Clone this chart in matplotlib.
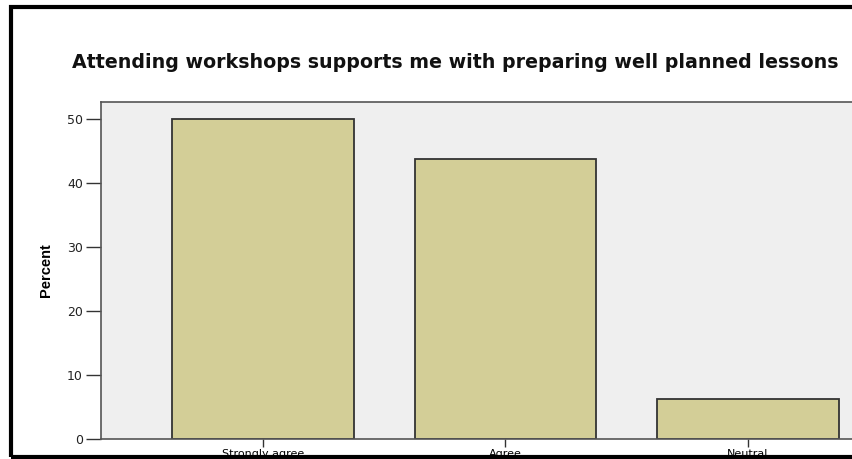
import matplotlib
matplotlib.use("Agg")
import matplotlib.pyplot as plt
from matplotlib.patches import Rectangle

categories = ["Strongly agree", "Agree", "Neutral"]
percent = [50.0, 43.75, 6.25]
yticks = [0, 10, 20, 30, 40, 50]
title = "Attending workshops supports me with preparing well planned lessons"

W, H = 853, 459
fig = plt.figure(figsize=(W / 100, H / 100), dpi=100)
fig.patch.set_facecolor("white")


def px(x0, y0, x1, y1):
    # pixel box (from top-left) -> figure fraction [left, bottom, width, height]
    return [x0 / W, (H - y1) / H, (x1 - x0) / W, (y1 - y0) / H]


# thick black frame of the screenshot (sits under the axis labels)
fig.patches.append(Rectangle((11.5 / W, (H - 456.5) / H), 2, 450 / H,
                             transform=fig.transFigure, fill=False,
                             edgecolor="black", linewidth=3, zorder=-1))

# plot area runs past the right edge of the screenshot
ax = fig.add_axes(px(101, 102, 910, 439))
ax.set_facecolor("#efefef")
x = range(len(categories))
ax.bar(x, percent, width=0.75, color="#d3ce97", edgecolor="#333333", linewidth=1.3)
ax.set_xlim(-0.668, len(categories) - 1 + 0.668)
ax.set_ylim(0, 52.66)

ax.set_yticks(yticks)
ax.set_xticks(list(x))
ax.set_xticklabels(categories, fontsize=8, family="DejaVu Sans")
ax.tick_params(axis="y", length=11, width=1, color="#333333", labelsize=9,
               labelcolor="#222222", pad=2)
ax.tick_params(axis="x", length=6, width=1, color="#333333", pad=1)
for lab in ax.get_yticklabels():
    lab.set_family("DejaVu Sans")
for side in ["left", "top", "bottom"]:
    ax.spines[side].set_color("#555555")
    ax.spines[side].set_linewidth(1.2)
ax.spines["right"].set_visible(False)
ax.set_ylabel("Percent", fontsize=10.5, fontweight="bold",
              family="Liberation Sans", labelpad=10)

fig.text(72 / W, (H - 62) / H, title, ha="left", va="center", fontsize=13.7,
         fontweight="bold", family="DejaVu Sans", color="#111111")

fig.savefig("out.png", dpi=100)
